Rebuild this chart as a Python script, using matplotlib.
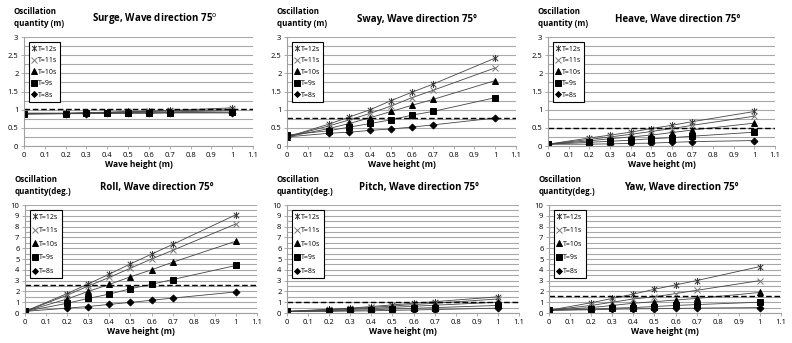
import numpy as np
import matplotlib
matplotlib.use('Agg')
import matplotlib.pyplot as plt
from matplotlib.path import Path
from matplotlib.lines import Line2D
from matplotlib.ticker import MultipleLocator, FormatStrFormatter

plt.rcParams['font.family'] = ['Open Sans', 'DejaVu Sans']

# wave heights (m)
heights = [0, 0.2, 0.3, 0.4, 0.5, 0.6, 0.7, 1.0]
periods = ['T=12s', 'T=11s', 'T=10s', 'T=9s', 'T=8s']

surge = [[0.90, 0.90, 0.92, 0.93, 0.95, 0.96, 0.98, 1.05],
         [0.90, 0.90, 0.91, 0.92, 0.94, 0.95, 0.97, 1.00],
         [0.90, 0.90, 0.90, 0.91, 0.92, 0.93, 0.94, 0.97],
         [0.88, 0.89, 0.90, 0.90, 0.91, 0.91, 0.92, 0.93],
         [0.88, 0.89, 0.89, 0.90, 0.90, 0.90, 0.91, 0.91]]
sway = [[0.25, 0.60, 0.80, 1.00, 1.25, 1.48, 1.70, 2.42],
        [0.25, 0.55, 0.72, 0.90, 1.10, 1.33, 1.53, 2.15],
        [0.25, 0.48, 0.62, 0.78, 0.95, 1.12, 1.28, 1.80],
        [0.30, 0.42, 0.52, 0.62, 0.72, 0.85, 0.95, 1.33],
        [0.25, 0.35, 0.38, 0.43, 0.47, 0.52, 0.58, 0.77]]
heave = [[0.05, 0.22, 0.30, 0.38, 0.48, 0.57, 0.67, 0.95],
         [0.05, 0.18, 0.25, 0.32, 0.40, 0.48, 0.57, 0.82],
         [0.05, 0.14, 0.20, 0.25, 0.30, 0.37, 0.44, 0.63],
         [0.05, 0.10, 0.13, 0.16, 0.20, 0.23, 0.27, 0.38],
         [0.05, 0.05, 0.06, 0.07, 0.08, 0.10, 0.12, 0.15]]
roll = [[0.15, 1.80, 2.70, 3.60, 4.55, 5.45, 6.35, 9.10],
        [0.15, 1.65, 2.50, 3.30, 4.15, 5.00, 5.80, 8.25],
        [0.15, 1.30, 2.00, 2.65, 3.35, 4.00, 4.70, 6.65],
        [0.15, 0.90, 1.35, 1.75, 2.25, 2.65, 3.10, 4.40],
        [0.15, 0.45, 0.60, 0.80, 0.98, 1.18, 1.38, 1.95]]
pitch = [[0.15, 0.35, 0.45, 0.60, 0.75, 0.90, 1.05, 1.50],
         [0.15, 0.30, 0.40, 0.52, 0.65, 0.78, 0.90, 1.30],
         [0.15, 0.25, 0.33, 0.42, 0.52, 0.62, 0.72, 1.00],
         [0.15, 0.20, 0.25, 0.30, 0.37, 0.43, 0.50, 0.70],
         [0.15, 0.15, 0.18, 0.20, 0.25, 0.28, 0.32, 0.45]]
yaw = [[0.25, 0.95, 1.35, 1.75, 2.20, 2.60, 3.00, 4.30],
       [0.25, 0.70, 1.00, 1.30, 1.50, 1.80, 2.10, 3.00],
       [0.25, 0.50, 0.70, 0.90, 1.05, 1.20, 1.35, 1.90],
       [0.25, 0.35, 0.45, 0.50, 0.60, 0.70, 0.78, 1.00],
       [0.25, 0.30, 0.35, 0.38, 0.40, 0.42, 0.45, 0.50]]

titles = ['Surge, Wave direction 75$^{\\mathsf{o}}$', 'Sway, Wave direction 75°', 'Heave, Wave direction 75°',
          'Roll, Wave direction 75°', 'Pitch, Wave direction 75°', 'Yaw, Wave direction 75°']
ylabels = ['Oscillation\nquantity (m)'] * 3 + ['Oscillation\nquantity(deg.)'] * 3
limits = [1.02, 0.77, 0.50, 2.55, 1.05, 1.55]
datasets = [surge, sway, heave, roll, pitch, yaw]
xticks = [0, 0.1, 0.2, 0.3, 0.4, 0.5, 0.6, 0.7, 0.8, 0.9, 1.0, 1.1]
xticklabels = ['0', '0.1', '0.2', '0.3', '0.4', '0.5', '0.6', '0.7', '0.8', '0.9', '1', '1.1']

# star marker: x with vertical bar
star = Path([(-1, -1), (1, 1), (-1, 1), (1, -1), (0, -1.3), (0, 1.3)],
            [Path.MOVETO, Path.LINETO, Path.MOVETO, Path.LINETO, Path.MOVETO, Path.LINETO])
markers = [star, 'x', '^', 's', 'D']
msizes = [5, 5, 4.5, 5, 3.5]
mcolors = ['#333333', '#777777', 'black', 'black', 'black']

W, H = 792, 343
# axes boxes in pixels: left, right, top, bottom
boxes = [(24, 253, 37, 146), (287, 516, 37, 146), (548, 775, 37, 146),
         (25, 257, 205, 313), (287, 519, 205, 313), (549, 781, 205, 313)]

fig = plt.figure(figsize=(W / 100, H / 100), dpi=100)

for k in range(6):
    l, r, t, b = boxes[k]
    ax = fig.add_axes([l / W, (H - b) / H, (r - l) / W, (b - t) / H])
    top = k < 3
    ymax = 3 if top else 10
    ax.set_xlim(0, 1.1)
    ax.set_ylim(0, ymax)
    ax.set_xticks(xticks)
    ax.set_xticklabels(xticklabels)
    ax.yaxis.set_major_locator(MultipleLocator(0.5 if top else 1))
    ax.yaxis.set_minor_locator(MultipleLocator(0.25 if top else 0.5))
    ax.yaxis.set_major_formatter(FormatStrFormatter('%g'))
    ax.grid(True, axis='y', which='both', color='#a8a8a8', linewidth=0.8)
    ax.set_axisbelow(True)
    for s in ['top', 'right']:
        ax.spines[s].set_visible(False)
    for s in ['left', 'bottom']:
        ax.spines[s].set_color('#a0a0a0')
        ax.spines[s].set_linewidth(0.8)
    ax.tick_params(labelsize=5.5, length=2, width=0.6, color='#a0a0a0', pad=2)
    ax.tick_params(axis='y', which='minor', length=0)

    for i in range(5):
        ax.plot(heights, datasets[k][i], color='#444444', linewidth=0.6,
                marker=markers[i], markersize=msizes[i], markerfacecolor=mcolors[i],
                markeredgecolor=mcolors[i], markeredgewidth=0.7)
    ax.axhline(limits[k], color='black', linestyle=(0, (4, 2)), linewidth=1.0)

    ax.set_title(titles[k], fontsize=7, fontweight='bold', pad=11, x=0.57)
    ax.set_xlabel('Wave height (m)', fontsize=6, fontweight='bold', labelpad=1)
    ax.text(-0.045, 1.08, ylabels[k], transform=ax.transAxes, fontsize=5.8,
            fontweight='bold', ha='left', va='bottom', linespacing=1.5)

    handles = [Line2D([], [], linestyle='none', marker=markers[i], markersize=msizes[i] - 0.5,
                      markerfacecolor=mcolors[i], markeredgecolor=mcolors[i], markeredgewidth=0.7)
               for i in range(5)]
    leg = ax.legend(handles, periods, loc='upper left', fontsize=5, handlelength=0.6,
                    handletextpad=0.2, labelspacing=0.65 if top else 0.95, borderpad=0.5,
                    fancybox=False, framealpha=1, bbox_to_anchor=(0.005, 0.985))
    leg.get_frame().set_edgecolor('black')
    leg.get_frame().set_linewidth(0.8)

fig.savefig('out.png', dpi=100)
